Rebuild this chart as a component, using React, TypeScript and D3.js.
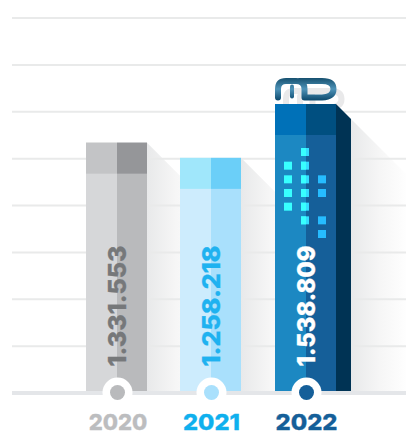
import React from "react";
import * as d3 from "d3";

const categories = ["2020", "2021", "2022"];
const values = [1331553, 1258218, 1538809];
const valueLabels = ["1.331.553", "1.258.218", "1.538.809"];
// height of each column as drawn in the picture, in value units
const drawnValues = [1331553, 1250000, 1538809];
const gridLevels = [1, 2, 3, 4, 5, 6, 7, 8];
const leftColors = ["#d6d7d9", "#cdecfd", "#1c88c2"];
const rightColors = ["#b9babc", "#a9e0fc", "#155f99"];
const capLeftColors = ["#c3c4c6", "#a0e7fb", "#0071b8"];
const capRightColors = ["#959699", "#6bcff8", "#004f80"];
const valueColors = ["#76787a", "#1fb2f0", "#ffffff"];
const yearColors = ["#bcbdbf", "#0fb0ee", "#155f99"];
const yearWidths = [58.7, 57, 62];
// window grid on the 2022 tower: [column, row]
const windows: [number, number][] = [
  [1, 0],
  [0, 1], [1, 1],
  [0, 2], [1, 2], [2, 2],
  [0, 3], [1, 3], [2, 3],
  [0, 4], [1, 4],
  [1, 5], [2, 5],
  [2, 6],
];

const W = 406;
const H = 432;
const capH = 31;
const baseY = 393;
const xp = d3.scalePoint<string>().domain(categories).range([117, 306]);
const x = (c: string) => Math.floor(xp(c)!);
const y = d3.scaleLinear().domain([0, 1538809]).range([391, 104]);
const gridY = d3.scaleLinear().domain([0, 8]).range([393, 18]);
const winX = d3.scaleLinear().domain([0, 2]).range([288, 322]);
const winY = d3.scaleLinear().domain([0, 6]).range([152, 234]);

const logoPath =
  "M278,97.5 V89 Q278,81 286,81 H296 Q304.5,81 304.5,89 V97.5 H322 Q333.5,97 333.5,89 Q333.5,81 322,81 H300";
const logoPin = "M292,86.5 V96.5";

export default function App() {
  const shadow = (i: number) => {
    const r = x(categories[i]) + 30 + (i === 2 ? 15 : 0);
    const top = y(drawnValues[i]) + (i === 2 ? 15 : 0);
    const reach = 60;
    return `M${r},${top} L${r + reach},${top + reach} V391 H${r} Z`;
  };
  return (
    <svg
      width={W}
      height={H}
      viewBox={`0 0 ${W} ${H}`}
      style={{ position: "absolute", left: 0, top: 0, display: "block" }}
    >
      <defs>
        {categories.map((c, i) => {
          const r = x(c) + 30 + (i === 2 ? 15 : 0);
          return (
            <linearGradient key={c} id={`sh${i}`} gradientUnits="userSpaceOnUse" x1={r} x2={r + 58} y1={0} y2={0}>
              <stop offset="0" stopColor="#e8e9ea" />
              <stop offset="0.5" stopColor="#f6f6f6" />
              <stop offset="1" stopColor="#ffffff" />
            </linearGradient>
          );
        })}
        <linearGradient id="logoG" gradientUnits="userSpaceOnUse" x1={0} x2={0} y1={78} y2={100}>
          <stop offset="0" stopColor="#16506f" />
          <stop offset="0.5" stopColor="#4e93b8" />
          <stop offset="1" stopColor="#0f4c70" />
        </linearGradient>
      </defs>

      <rect width={W} height={H} fill="#ffffff" />

      {categories.map((_, i) => (
        <path key={i} d={shadow(i)} fill={`url(#sh${i})`} />
      ))}

      {gridLevels.map((g) => (
        <line key={g} x1={12} x2={W} y1={gridY(g)} y2={gridY(g)} stroke="#e9eaea" strokeWidth={2} />
      ))}

      <g transform="translate(8,10)" fill="none" stroke="#e9e9ea" strokeWidth={6} strokeLinecap="round" strokeLinejoin="round">
        <path d={logoPath} />
        <path d={logoPin} />
      </g>

      {categories.map((c, i) => {
        const cx = x(c);
        const l = cx - 31;
        const r = cx + 30;
        const top = y(drawnValues[i]);
        return (
          <g key={c}>
            {i === 2 && <path d={`M${r},${top} L${r + 15},${top + 15} V391 H${r} Z`} fill="#003354" />}
            <rect x={l} y={top} width={cx - l} height={391 - top} fill={leftColors[i]} />
            <rect x={cx} y={top} width={r - cx} height={391 - top} fill={rightColors[i]} />
            <rect x={l} y={top} width={cx - l} height={capH} fill={capLeftColors[i]} />
            <rect x={cx} y={top} width={r - cx} height={capH} fill={capRightColors[i]} />
          </g>
        );
      })}

      {windows.map(([col, row], k) => {
        const wx = winX(col) - 4;
        const wy = winY(row) - 4;
        const mid = x("2022");
        const crosses = col === 1;
        return (
          <g key={k}>
            <rect x={wx} y={wy} width={8} height={8} fill={col === 2 ? "#26bcff" : crosses ? "#33dcff" : "#38ffff"} />
            {crosses && <rect x={wx} y={wy} width={mid - wx} height={8} fill="#38ffff" />}
          </g>
        );
      })}

      <g fill="none" stroke="url(#logoG)" strokeWidth={6} strokeLinecap="round" strokeLinejoin="round">
        <path d={logoPath} />
        <path d={logoPin} strokeWidth={4} />
      </g>

      <line x1={12} x2={W} y1={baseY} y2={baseY} stroke="#e4e6e9" strokeWidth={4} />

      {categories.map((c, i) => {
        const cx = x(c);
        return (
          <g key={c}>
            <circle cx={cx + 0.5} cy={392.5} r={15} fill="#ffffff" />
            <circle cx={cx + 0.5} cy={392.5} r={7.5} fill={rightColors[i]} />
            <text
              x={i === 0 ? cx + 1 : cx + 0.5}
              y={430}
              textAnchor="middle"
              fontFamily="Inter, Roboto, sans-serif"
              fontWeight={800}
              fontSize={22}
              textLength={yearWidths[i]}
              lengthAdjust="spacingAndGlyphs"
              fill={yearColors[i]}
              stroke={yearColors[i]}
              strokeWidth={0.3}
            >
              {c}
            </text>
            <text
              transform={`translate(${cx + 9.2},366.5) rotate(-90)`}
              fontFamily="Inter, Roboto, sans-serif"
              fontWeight={800}
              fontSize={24.5}
              textLength={121}
              lengthAdjust="spacingAndGlyphs"
              fill={valueColors[i]}
              stroke={valueColors[i]}
              strokeWidth={0.3}
              data-value={values[i]}
            >
              {valueLabels[i]}
            </text>
          </g>
        );
      })}
    </svg>
  );
}
